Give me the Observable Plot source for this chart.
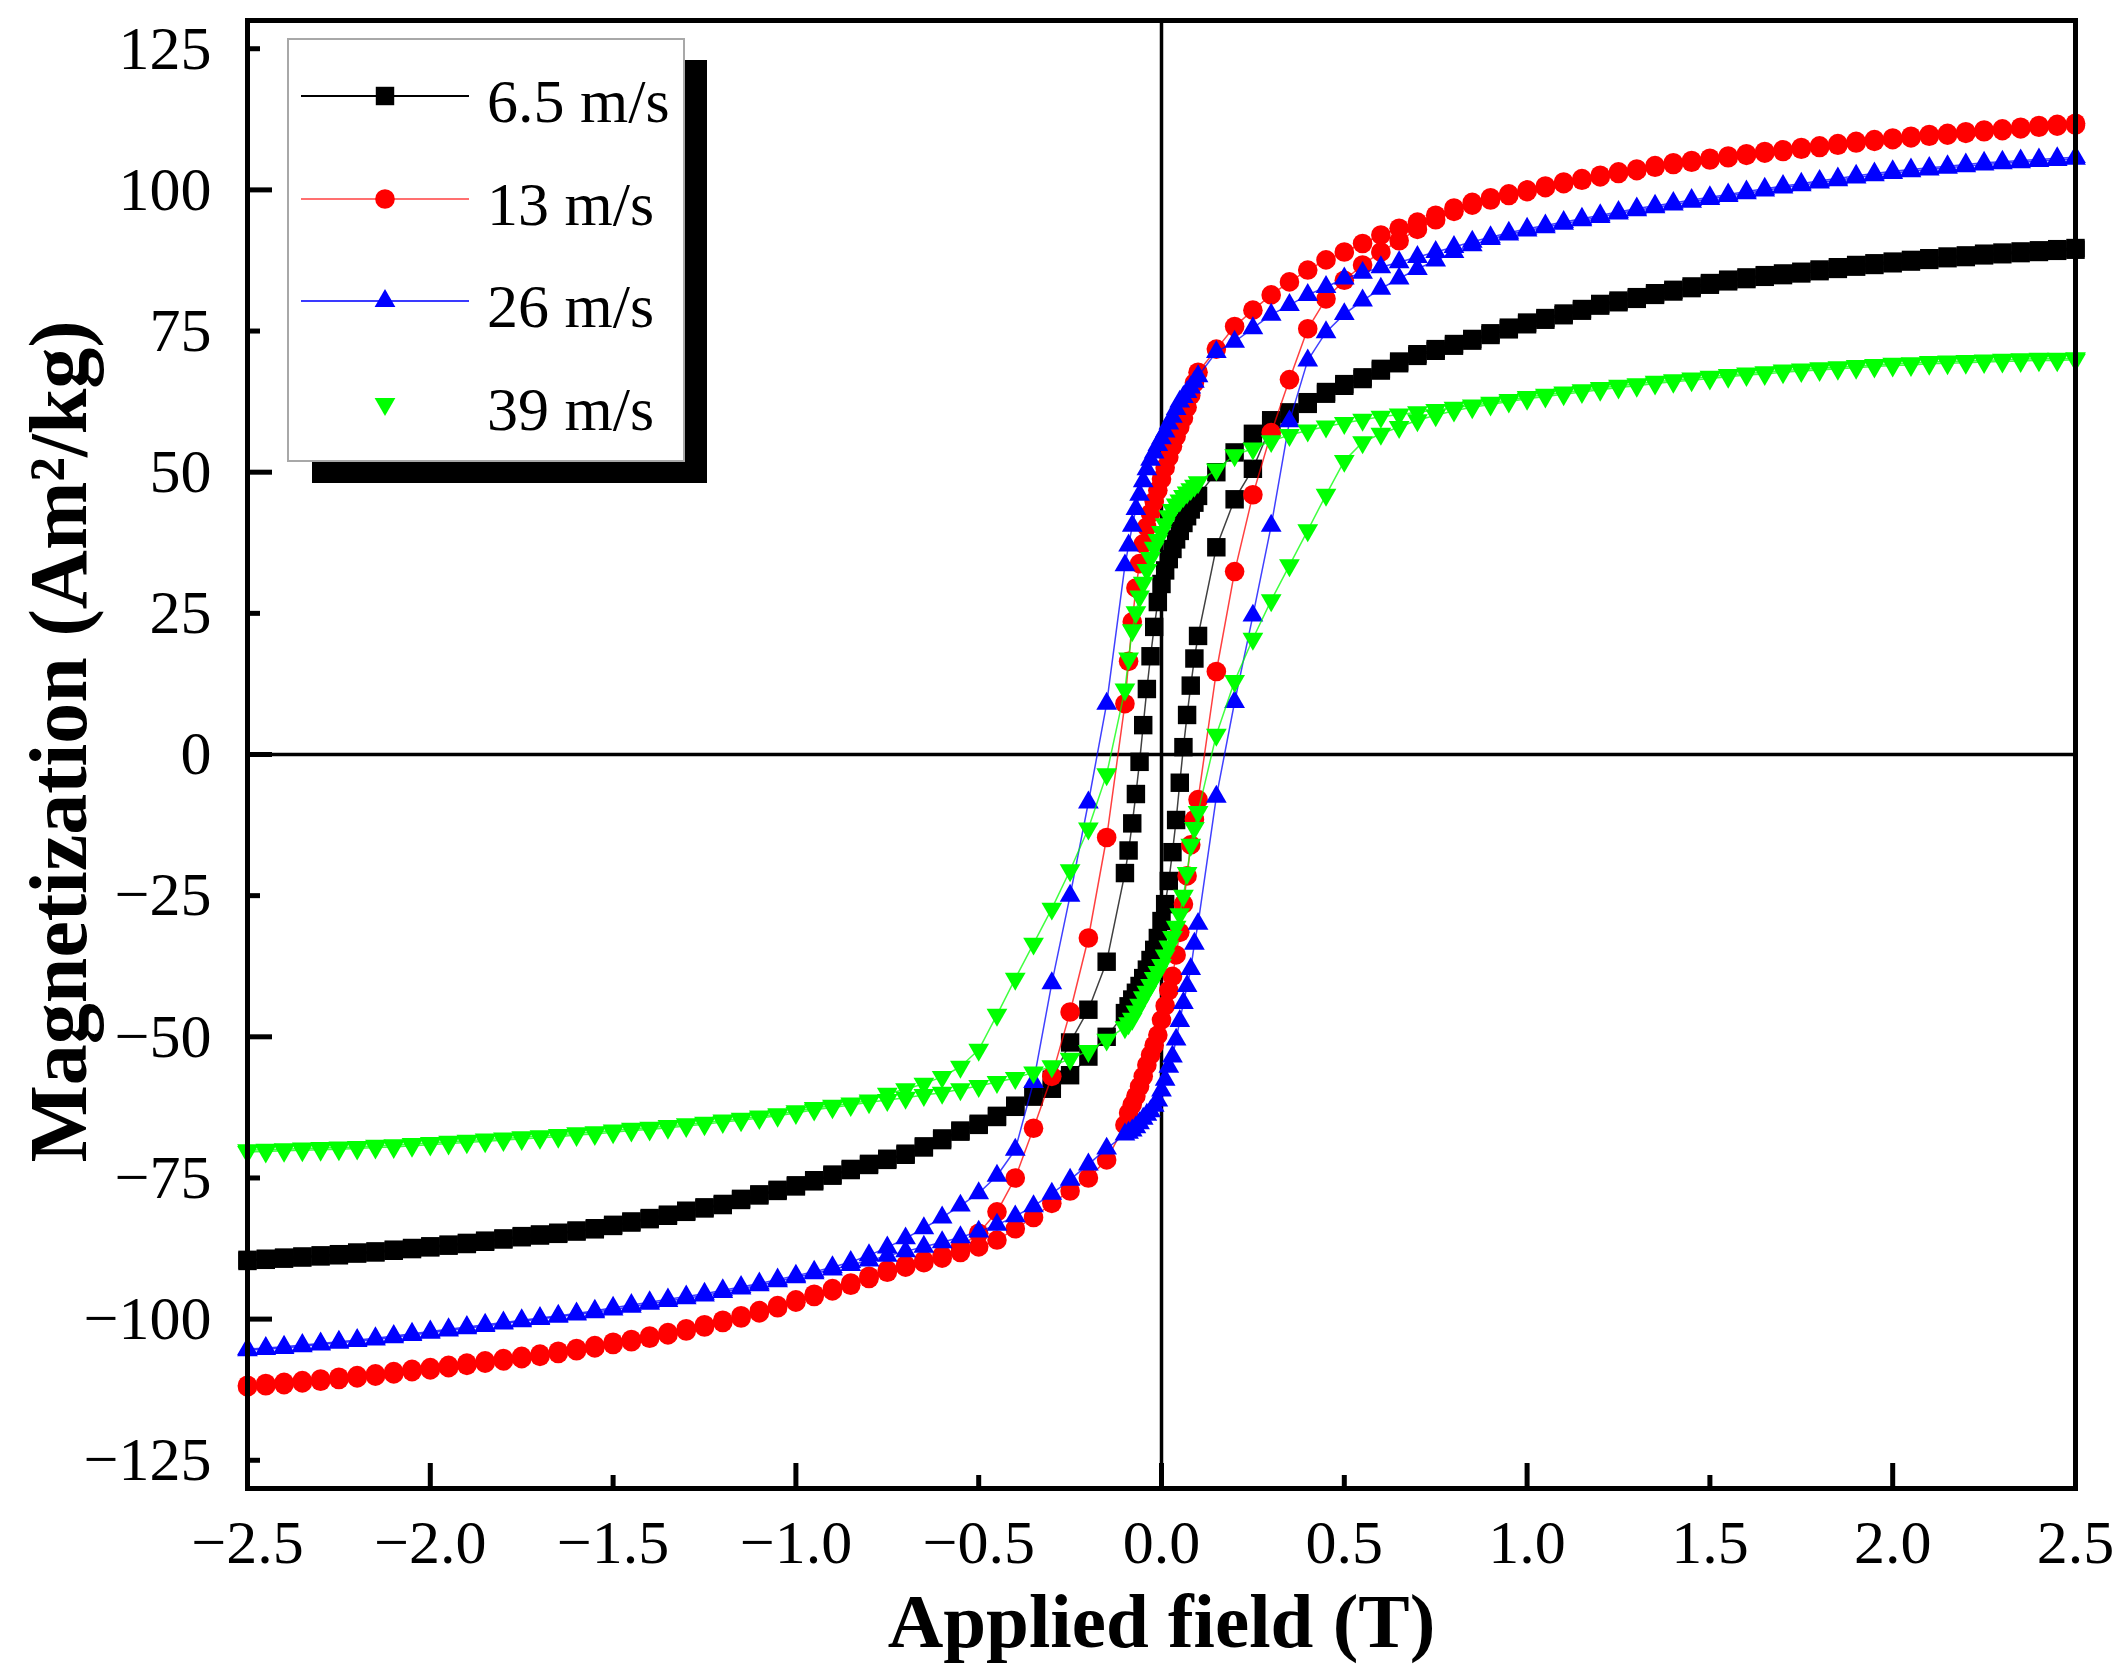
<!DOCTYPE html>
<html><head><meta charset="utf-8">
<script src="https://cdn.jsdelivr.net/npm/d3@7"></script>
<script src="https://cdn.jsdelivr.net/npm/@observablehq/plot@0.6"></script>
<style>body{margin:0;background:#fff}#chart svg{display:block}</style>
</head><body><div id="chart"></div>
<script>
// Applied field grid (T), in sweep order of the descending branch
const field = [
 2.5,2.45,2.4,2.35,2.3,2.25,2.2,2.15,2.1,2.05,
 2.0,1.95,1.9,1.85,1.8,1.75,1.7,1.65,1.6,1.55,
 1.5,1.45,1.4,1.35,1.3,1.25,1.2,1.15,1.1,1.05,
 1.0,0.95,0.9,0.85,0.8,0.75,0.7,0.65,0.6,0.55,
 0.5,0.45,0.4,0.35,0.3,0.25,0.2,0.15,
 0.1,0.09,0.08,0.07,0.06,0.05,0.04,0.03,0.02,0.01,0,-0.01,-0.02,-0.03,-0.04,-0.05,-0.06,-0.07,-0.08,-0.09,-0.1,
 -0.15,-0.2,-0.25,-0.3,-0.35,-0.4,-0.45,-0.5,-0.55,-0.6,
 -0.65,-0.7,-0.75,-0.8,-0.85,-0.9,-0.95,-1.0,-1.05,-1.1,
 -1.15,-1.2,-1.25,-1.3,-1.35,-1.4,-1.45,-1.5,-1.55,-1.6,
 -1.65,-1.7,-1.75,-1.8,-1.85,-1.9,-1.95,-2.0,-2.05,-2.1,
 -2.15,-2.2,-2.25,-2.3,-2.35,-2.4,-2.45,-2.5
];

// 6.5 m/s
const m65Down = [
 89.7,89.5,89.3,89.1,88.9,88.7,88.4,88.2,87.9,87.6,
 87.3,87.0,86.7,86.3,85.9,85.5,85.2,84.9,84.5,84.1,
 83.5,82.9,82.3,81.7,81.0,80.4,79.8,78.9,78.1,77.3,
 76.5,75.6,74.6,73.6,72.7,71.8,70.9,69.6,68.3,66.8,
 65.6,64.2,62.4,60.6,59.2,56.8,53.5,50.0,
 45.8,44.6,43.4,42.2,41.0,39.6,38.1,36.4,34.6,32.6,30.2,27.0,22.6,17.4,11.6,5.2,-1.3,-7.0,-12.2,-17.0,-21.0,
 -36.7,-45.2,-51.0,-57.6,-60.3,-62.2,-64.0,-65.4,-66.6,-68.0,
 -69.4,-70.7,-71.6,-72.5,-73.4,-74.4,-75.4,-76.3,-77.1,-77.9,
 -78.7,-79.6,-80.2,-80.8,-81.5,-82.1,-82.7,-83.3,-83.9,-84.3,
 -84.7,-85.0,-85.3,-85.7,-86.1,-86.5,-86.8,-87.1,-87.4,-87.7,
 -88.0,-88.2,-88.5,-88.7,-88.9,-89.1,-89.3,-89.5
];
const m65Up = [
 89.4,89.2,89.0,88.8,88.6,88.4,88.1,87.9,87.6,87.3,
 87.0,86.7,86.4,86.0,85.6,85.2,84.9,84.6,84.2,83.8,
 83.2,82.6,82.0,81.4,80.7,80.1,79.5,78.6,77.8,77.0,
 76.2,75.3,74.3,73.3,72.4,71.5,70.6,69.3,68.0,66.5,
 65.3,63.9,62.1,60.3,58.3,50.6,45.2,36.7,
 21.0,17.0,12.2,7.0,1.3,-5.0,-11.6,-17.3,-22.4,-26.5,-29.5,-32.5,-34.6,-36.4,-38.1,-39.6,-41.0,-42.2,-43.4,-44.6,-45.8,
 -50.0,-53.5,-56.8,-59.2,-60.6,-62.4,-64.2,-65.6,-66.8,-68.3,
 -69.6,-70.9,-71.8,-72.7,-73.6,-74.6,-75.6,-76.5,-77.3,-78.1,
 -78.9,-79.8,-80.4,-81.0,-81.7,-82.3,-82.9,-83.5,-84.1,-84.5,
 -84.9,-85.2,-85.5,-85.9,-86.3,-86.7,-87.0,-87.3,-87.6,-87.9,
 -88.2,-88.4,-88.7,-88.9,-89.1,-89.3,-89.5,-89.7
];

// 13 m/s
const m13Down = [
 111.8,111.6,111.4,111.1,110.8,110.6,110.3,110.0,109.8,109.5,
 109.2,108.9,108.6,108.2,107.8,107.5,107.1,106.8,106.4,106.0,
 105.6,105.2,104.8,104.3,103.7,103.2,102.6,102.0,101.4,100.7,
 100.0,99.3,98.6,97.8,96.8,95.5,94.3,93.2,92.0,90.5,
 89.0,87.6,85.8,83.7,81.4,78.7,75.8,71.8,
 67.7,65.8,63.6,61.5,59.6,58.0,56.3,54.6,52.7,50.8,48.8,46.8,44.8,42.7,40.3,37.3,33.8,29.5,23.5,16.5,9.0,
 -14.7,-32.5,-45.6,-57.0,-66.2,-75.0,-81.0,-84.8,-87.2,-88.7,
 -89.6,-90.4,-91.3,-92.4,-93.6,-94.6,-95.6,-96.6,-97.6,-98.5,
 -99.4,-100.2,-101.0,-101.7,-102.4,-103.0,-103.6,-104.1,-104.7,-105.2,
 -105.7,-106.2,-106.6,-107.0,-107.4,-107.8,-108.2,-108.6,-108.9,-109.3,
 -109.7,-110.0,-110.3,-110.6,-110.9,-111.2,-111.4,-111.7
];
const m13Up = [
 111.5,111.3,111.1,110.8,110.5,110.3,110.0,109.7,109.5,109.2,
 108.9,108.6,108.3,107.9,107.5,107.2,106.8,106.5,106.1,105.7,
 105.3,104.9,104.5,104.0,103.4,102.9,102.3,101.7,101.1,100.4,
 99.7,99.0,98.2,97.3,96.2,94.7,93.0,91.0,89.0,86.7,
 84.0,80.7,75.4,66.4,57.0,46.0,32.4,14.7,
 -8.0,-11.5,-16.0,-21.5,-26.5,-31.5,-35.5,-39.3,-41.8,-44.5,-47.0,-49.7,-51.5,-53.2,-55.0,-57.0,-58.8,-60.5,-62.0,-63.5,-65.6,
 -71.8,-75.0,-77.3,-79.5,-82.0,-84.0,-86.0,-87.2,-88.2,-89.2,
 -90.0,-90.8,-91.7,-92.8,-94.0,-95.0,-96.0,-97.0,-98.0,-98.9,
 -99.8,-100.6,-101.4,-102.1,-102.8,-103.4,-104.0,-104.5,-105.1,-105.6,
 -106.1,-106.6,-107.0,-107.4,-107.8,-108.2,-108.6,-109.0,-109.3,-109.7,
 -110.1,-110.4,-110.7,-111.0,-111.3,-111.6,-111.8,-112.0
];

// 26 m/s
const m26Down = [
 105.8,105.6,105.4,105.2,105.0,104.8,104.5,104.2,103.9,103.6,
 103.3,102.9,102.5,102.0,101.6,101.1,100.7,100.2,99.7,99.2,
 98.7,98.2,97.7,97.2,96.7,96.1,95.5,94.9,94.3,93.7,
 93.1,92.4,91.6,90.8,89.9,89.0,88.1,87.2,86.3,85.3,
 84.3,82.8,81.4,79.6,77.9,75.5,73.1,71.3,
 67.0,66.0,65.0,64.2,63.3,62.5,61.2,59.8,58.6,57.2,56.0,54.8,53.5,52.2,50.5,48.4,46.0,43.5,40.5,37.0,33.5,
 9.0,-8.5,-25.0,-40.5,-58.0,-70.0,-74.6,-77.7,-79.9,-82.0,
 -83.9,-85.7,-87.3,-88.7,-89.9,-90.8,-91.6,-92.3,-93.0,-93.7,
 -94.3,-94.9,-95.5,-96.0,-96.5,-97.0,-97.5,-98.0,-98.5,-99.0,
 -99.4,-99.8,-100.2,-100.6,-101.0,-101.4,-101.8,-102.2,-102.6,-103.0,
 -103.4,-103.7,-104.0,-104.3,-104.6,-104.9,-105.1,-105.3
];
const m26Up = [
 105.5,105.3,105.1,104.9,104.7,104.5,104.2,103.9,103.6,103.3,
 103.0,102.6,102.2,101.7,101.3,100.8,100.4,99.9,99.4,98.9,
 98.4,97.9,97.4,96.9,96.4,95.8,95.2,94.6,94.0,93.4,
 92.8,92.1,91.3,90.2,89.0,87.5,86.0,84.3,82.5,80.4,
 78.0,74.8,69.8,59.0,40.5,24.6,9.3,-7.5,
 -30.0,-33.5,-38.0,-41.0,-44.0,-47.2,-50.5,-53.5,-55.3,-57.6,-59.5,-61.3,-62.2,-63.2,-63.8,-64.5,-65.3,-66.0,-66.6,-67.0,-67.3,
 -69.8,-72.6,-75.3,-77.8,-80.0,-81.8,-83.3,-84.5,-85.5,-86.4,
 -87.2,-88.0,-88.8,-89.6,-90.4,-91.2,-91.9,-92.6,-93.3,-94.0,
 -94.6,-95.2,-95.8,-96.3,-96.8,-97.3,-97.8,-98.3,-98.8,-99.2,
 -99.6,-100.0,-100.4,-100.8,-101.2,-101.6,-102.0,-102.4,-102.8,-103.2,
 -103.6,-103.9,-104.2,-104.5,-104.8,-105.1,-105.3,-105.5
];

// 39 m/s
const m39Down = [
 70.2,70.1,70.1,70.0,69.9,69.8,69.7,69.6,69.5,69.3,
 69.2,69.0,68.8,68.6,68.4,68.2,68.0,67.7,67.5,67.2,
 66.9,66.6,66.3,66.0,65.6,65.3,64.9,64.5,64.1,63.7,
 63.3,62.8,62.3,61.8,61.4,61.0,60.6,60.2,59.8,59.3,
 58.7,58.1,57.4,56.6,55.5,54.2,53.0,50.5,
 48.2,47.6,47.0,46.4,45.8,45.0,44.3,43.3,42.2,40.8,39.4,38.0,36.6,34.8,32.7,30.4,28.0,25.2,22.0,17.0,11.5,
 -3.5,-13.1,-20.5,-27.3,-33.5,-39.7,-46.1,-52.3,-55.3,-57.1,
 -58.3,-59.3,-60.1,-61.3,-61.8,-62.2,-62.6,-63.2,-63.7,-64.1,
 -64.5,-64.8,-65.2,-65.5,-65.8,-66.1,-66.3,-66.6,-66.9,-67.1,
 -67.4,-67.6,-67.8,-68.0,-68.2,-68.4,-68.6,-68.8,-69.0,-69.2,
 -69.3,-69.5,-69.6,-69.7,-69.8,-69.9,-70.0,-70.1
];
const m39Up = [
 69.9,69.8,69.8,69.7,69.6,69.5,69.4,69.3,69.2,69.0,
 68.9,68.7,68.5,68.3,68.1,67.9,67.7,67.4,67.2,66.9,
 66.6,66.3,66.0,65.7,65.3,65.0,64.6,64.2,63.8,63.4,
 63.0,62.5,62.0,61.5,60.9,60.1,59.2,58.0,56.8,55.3,
 52.0,46.0,39.7,33.5,27.3,20.5,13.0,3.5,
 -10.2,-13.0,-16.0,-21.0,-25.0,-28.3,-30.5,-32.3,-34.0,-35.6,-37.3,-38.5,-39.6,-40.8,-42.0,-43.0,-44.3,-45.5,-46.8,-47.6,-48.3,
 -50.5,-52.5,-53.9,-55.2,-56.3,-57.3,-58.0,-58.7,-59.3,-59.9,
 -60.3,-60.8,-61.2,-61.6,-62.1,-62.5,-62.9,-63.5,-64.0,-64.4,
 -64.8,-65.1,-65.5,-65.8,-66.1,-66.4,-66.6,-66.9,-67.2,-67.4,
 -67.7,-67.9,-68.1,-68.3,-68.5,-68.7,-68.9,-69.1,-69.3,-69.5,
 -69.6,-69.8,-69.9,-70.0,-70.1,-70.2,-70.3,-70.4
];

const seriesNames = ["6.5 m/s", "13 m/s", "26 m/s", "39 m/s"];
const seriesColors = ["#000000", "#ff0000", "#0000ff", "#00ff00"];
const legendLineColors = ["#000000", "#ff7070", "#3a3aff", null];

const xMajorTicks = [-2, -1, 0, 1, 2];
const xMinorTicks = [-1.5, -0.5, 0.5, 1.5];
const xTickLabels = [-2.5, -2.0, -1.5, -1.0, -0.5, 0, 0.5, 1.0, 1.5, 2.0, 2.5];
const yMajorTicks = [-100, -50, 0, 50, 100];
const yMinorTicks = [-125, -75, -25, 25, 75, 125];
const yTickLabels = [-125, -100, -75, -50, -25, 0, 25, 50, 75, 100, 125];

const xTitle = "Applied field (T)";
const yTitle = "Magnetization (Am²/kg)";

// marker styles per series
const markerStyle = [
  {symbol: "square", r: 10.4, rotate: 0},
  {symbol: "circle", r: 9.8, rotate: 0},
  {symbol: "triangle", r: 7.7, rotate: 0},
  {symbol: "triangle", r: 7.7, rotate: 180}
];

const downs = [m65Down, m13Down, m26Down, m39Down];
const ups = [m65Up, m13Up, m26Up, m39Up];
downs.concat(ups).forEach((a, i) => { if (a.length !== field.length) console.error("length mismatch", i, a.length); });

const tables = seriesNames.map((name, s) => [
  ...field.map((H, k) => ({H, M: downs[s][k], branch: "down", series: name})),
  ...field.map((H, k) => ({H, M: ups[s][k], branch: "up", series: name}))
]);

const seriesMarks = tables.flatMap((data, s) => [
  Plot.line(data, {x: "H", y: "M", z: "branch", stroke: seriesColors[s], strokeWidth: 1.5, strokeOpacity: 0.75}),
  Plot.dot(data, {x: "H", y: "M", symbol: markerStyle[s].symbol, r: markerStyle[s].r,
                  rotate: markerStyle[s].rotate, fill: seriesColors[s], stroke: "none"})
]);

const W = 2128, Hgt = 1672;
const chart = Plot.plot({
  width: W, height: Hgt,
  marginLeft: 247, marginRight: 53, marginTop: 20, marginBottom: 184,
  style: {fontFamily: "'Liberation Serif', 'Times New Roman', serif", background: "white", color: "black", overflow: "visible"},
  x: {domain: [-2.5, 2.5]},
  y: {domain: [-130, 130]},
  marks: [
    Plot.ruleX([0], {stroke: "black", strokeWidth: 3.5}),
    Plot.ruleY([0], {stroke: "black", strokeWidth: 3.5}),
    ...seriesMarks,
    Plot.frame({stroke: "black", strokeWidth: 5}),
    Plot.axisX({ticks: xMajorTicks, tickSize: -25, strokeWidth: 5, tickFormat: () => "", label: null}),
    Plot.axisX({ticks: xMinorTicks, tickSize: -13, strokeWidth: 5, tickFormat: () => "", label: null}),
    Plot.axisX({ticks: xTickLabels, tickSize: 0, tickPadding: 30, fontSize: 62, tickFormat: d3.format(".1f"), label: null}),
    Plot.axisY({ticks: yMajorTicks, tickSize: -25, strokeWidth: 5, tickFormat: () => "", label: null}),
    Plot.axisY({ticks: yMinorTicks, tickSize: -13, strokeWidth: 5, tickFormat: () => "", label: null}),
    Plot.axisY({ticks: yTickLabels, tickSize: 0, tickPadding: 36, fontSize: 62, tickFormat: d3.format("d"), label: null}),
    Plot.text([xTitle], {text: d => d, frameAnchor: "bottom", textAnchor: "middle", dy: 158, fontSize: 77, fontWeight: "bold"}),
    Plot.text([yTitle], {text: d => d, frameAnchor: "left", textAnchor: "middle", rotate: -90, dx: -188, dy: -13, fontSize: 82, fontWeight: "bold"})
  ]
});
document.getElementById("chart").appendChild(chart);

// Legend (drawn in pixel space on top of the plot)
const svg = d3.select(chart);
const lg = svg.append("g").attr("class", "legend");
lg.append("rect").attr("x", 312).attr("y", 60).attr("width", 395).attr("height", 423).attr("fill", "black");
lg.append("rect").attr("x", 288).attr("y", 39).attr("width", 396).attr("height", 422)
  .attr("fill", "white").attr("stroke", "#a8a8a8").attr("stroke-width", 2);
const rowY = [96, 199, 301, 404];
const d3Symbols = {square: d3.symbolSquare, circle: d3.symbolCircle, triangle: d3.symbolTriangle};
seriesNames.forEach((name, s) => {
  const y = rowY[s];
  if (legendLineColors[s]) {
    lg.append("line").attr("x1", 301).attr("x2", 469).attr("y1", y).attr("y2", y)
      .attr("stroke", legendLineColors[s]).attr("stroke-width", 2.2);
  }
  const ms = markerStyle[s];
  lg.append("path")
    .attr("d", d3.symbol(d3Symbols[ms.symbol], Math.PI * ms.r * ms.r)())
    .attr("transform", `translate(385,${y}) rotate(${ms.rotate})`)
    .attr("fill", seriesColors[s]);
  lg.append("text").attr("x", 487).attr("y", y + 26).attr("font-size", 62)
    .attr("text-anchor", "start")
    .attr("font-family", "'Liberation Serif', 'Times New Roman', serif").attr("fill", "black").text(name);
});
</script>
</body></html>
